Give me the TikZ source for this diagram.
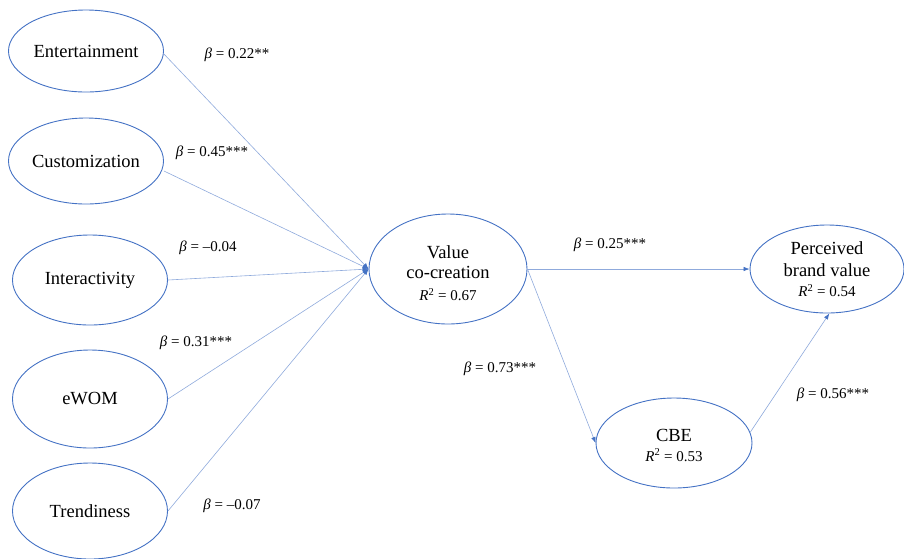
\documentclass[tikz,border=0pt]{standalone}
\usepackage{fontspec}
\setmainfont{Liberation Serif}
\usetikzlibrary{shapes.geometric,arrows.meta}
\definecolor{rimblue}{HTML}{4472C4}
\definecolor{pathblue}{HTML}{8FAADC}
\newcommand{\rsqfont}{\fontsize{15}{18}\selectfont}
\begin{document}
\begin{tikzpicture}[x=1pt,y=-1pt,
  construct/.style={ellipse,draw=rimblue,line width=0.9pt,inner sep=0pt,
    minimum width=#1,align=center,font=\fontsize{18.5}{22}\selectfont},
  construct/.default=155pt,
  caption/.style={align=center,inner sep=0pt,font=\fontsize{18.5}{22}\selectfont},
  path arrow/.style={draw=pathblue,line width=0.6pt,
    -{Latex[length=6pt,width=4.5pt,color=rimblue]}},
  coef/.style={font=\fontsize{15}{18}\selectfont,inner sep=1pt}]
\useasboundingbox (0,0) rectangle (904,558);

% exogenous constructs
\node[construct, minimum height=82pt] (ent) at (86,51) {Entertainment};
\node[construct, minimum height=86pt] (cus) at (86,161) {Customization};
\node[construct, minimum height=90pt] (int) at (90,280) {Interactivity};
\node[construct, minimum height=98pt] (ewom) at (90,399) {eWOM};
\node[construct, minimum height=96pt] (tre) at (90,511) {Trendiness};

% endogenous constructs
\node[construct=158pt, minimum height=110pt] (vcc) at (448,269) {};
\node[caption] (vcctext) at (448,273)
  {Value\\[-2pt]co-creation\\[0pt]{\rsqfont\textit{R}\textsuperscript{2} = 0.67}};
\node[construct=154pt, minimum height=88pt] (pbv) at (827,269)
  {Perceived\\brand value\\[-2pt]{\rsqfont\textit{R}\textsuperscript{2} = 0.54}};
\node[construct=156pt, minimum height=90pt] (cbe) at (674,443) {};
\node[caption] (cbetext) at (674,445)
  {CBE\\[-2pt]{\rsqfont\textit{R}\textsuperscript{2} = 0.53}};

% structural paths into value co-creation
\coordinate (vin) at (vcc.west);
\draw[path arrow] (ent.east) ++(0,3) -- (vin);
\draw[path arrow] (cus.east) ++(0,10) -- (vin);
\draw[path arrow] (int.east) -- (vin);
\draw[path arrow] (ewom.east) -- (vin);
\draw[path arrow] (tre.east) -- (vin);

% downstream paths
\draw[path arrow] (vcc.east) -- (pbv.west);
\draw[path arrow] (vcc.east) -- (cbe.west);
\draw[path arrow] (cbe.8) -- (pbv.-87);

% path coefficients
\node[coef] at (237,55) {\textit{β} = 0.22**};
\node[coef] at (212,153) {\textit{β} = 0.45***};
\node[coef] at (208,248) {\textit{β} = –0.04};
\node[coef] at (196,343) {\textit{β} = 0.31***};
\node[coef] at (232,506) {\textit{β} = –0.07};
\node[coef] at (610,245) {\textit{β} = 0.25***};
\node[coef] at (500,369) {\textit{β} = 0.73***};
\node[coef] at (833,395) {\textit{β} = 0.56***};
\end{tikzpicture}
\end{document}
